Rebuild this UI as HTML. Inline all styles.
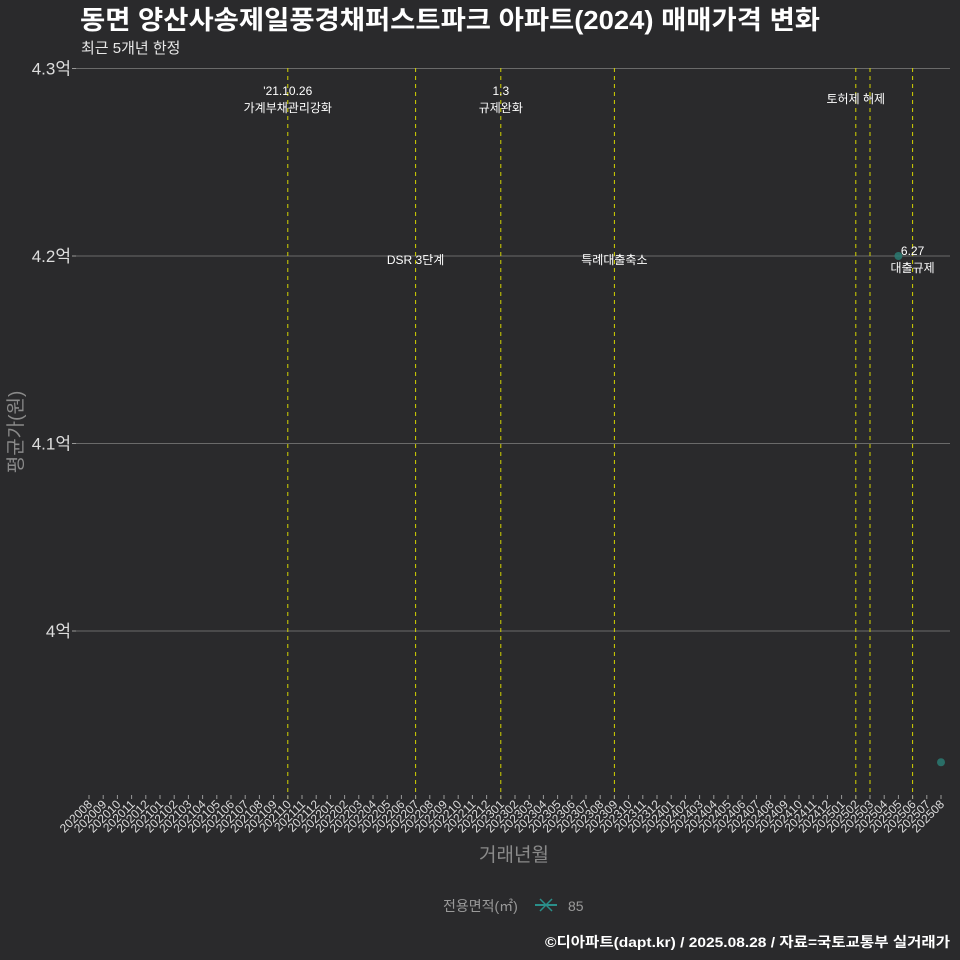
<!DOCTYPE html>
<html><head><meta charset="utf-8">
<style>
html,body{margin:0;padding:0;background:#2a2a2c;}
body{width:960px;height:960px;overflow:hidden;font-family:"Liberation Sans","Noto Sans CJK KR",sans-serif;}
svg{display:block;}
svg text{font-family:"Liberation Sans","Noto Sans CJK KR",sans-serif;}
</style></head>
<body>
<svg id="chart" width="960" height="960" xmlns="http://www.w3.org/2000/svg">
<rect width="960" height="960" fill="#2a2a2c"/>
<text x="80" y="29" font-size="26" font-weight="bold" fill="#ffffff" textLength="740" lengthAdjust="spacingAndGlyphs">동면 양산사송제일풍경채퍼스트파크 아파트(2024) 매매가격 변화</text>
<text x="81" y="53" font-size="15" fill="#e8e8e8">최근 5개년 한정</text>
<g id="grid"></g><g id="vlines"></g><g id="xaxis"></g><g id="yaxis"></g><g id="points"></g>
<text x="514" y="861" font-size="19" fill="#8a8a8a" text-anchor="middle">거래년월</text>
<text transform="translate(22,432) rotate(-90)" font-size="19" fill="#8a8a8a" text-anchor="middle">평균가(원)</text>
<g>
<text x="443" y="911" font-size="14" fill="#9a9a9a">전용면적(㎡)</text>
<line x1="535" y1="905" x2="557" y2="905" stroke="#2a8f8a" stroke-width="2"/>
<line x1="540" y1="899" x2="552" y2="911" stroke="#2a8f8a" stroke-width="1.5"/>
<line x1="540" y1="911" x2="552" y2="899" stroke="#2a8f8a" stroke-width="1.5"/>
<text x="568" y="911" font-size="14" fill="#9a9a9a">85</text>
</g>
<text x="950" y="947" font-size="14" font-weight="bold" fill="#ffffff" text-anchor="end" textLength="405" lengthAdjust="spacingAndGlyphs">©디아파트(dapt.kr) / 2025.08.28 / 자료=국토교통부 실거래가</text>
</svg>
<script>
const categories=[];
for(let y=2020;y<=2025;y++)for(let m=1;m<=12;m++){const k=y*100+m;if(k>=202008&&k<=202508)categories.push(String(k));}
const seriesDates=["202505","202508"];
const seriesValues=[4.2,3.93];
const yTicks=[4.0,4.1,4.2,4.3];
const yTickLabels=["4억","4.1억","4.2억","4.3억"];
const eventDates=["202110","202207","202301","202309","202502","202503","202506"];
const eventLabels=[["'21.10.26","가계부채관리강화"],["DSR 3단계"],["1.3","규제완화"],["특례대출축소"],["토허제 해제"],[],["6.27","대출규제"]];
const eventLabelY=[95,264,95,264,103,0,255];

const NS="http://www.w3.org/2000/svg";
const x0=89,step=14.2;
function xs(c){return x0+categories.indexOf(c)*step;}
function ys(v){return 631-(v-4.0)*1875;}
function mk(parent,tag,attrs,txt){const e=document.createElementNS(NS,tag);for(const k in attrs)e.setAttribute(k,attrs[k]);if(txt!==undefined)e.textContent=txt;document.getElementById(parent).appendChild(e);return e;}

yTicks.forEach((v,i)=>{
  const l=mk("grid","line",{x1:76,x2:950,y1:ys(v),y2:ys(v),stroke:"#6a6a6a","stroke-width":1});
  
  
  mk("yaxis","line",{x1:72,x2:76,y1:ys(v),y2:ys(v),stroke:"#999"});
  const t=mk("yaxis","text",{x:71,y:ys(v)+6,"font-size":17,fill:"#dddddd","text-anchor":"end"},yTickLabels[i]);
  
  
});
categories.forEach(c=>{
  const x=xs(c);
  mk("xaxis","line",{x1:x,x2:x,y1:795,y2:799,stroke:"#999"});
  const t=mk("xaxis","text",{transform:`translate(${x+4},805) rotate(-45)`,"font-size":12,fill:"#dddddd","text-anchor":"end"},c);
  
  
});
eventDates.forEach((d,i)=>{
  const x=xs(d);
  const l=mk("vlines","line",{x1:x,x2:x,y1:68,y2:799,stroke:"#d4d400","stroke-width":1,"stroke-dasharray":"4,4"});
  
  
  eventLabels[i].forEach((s,j)=>{
    const t=mk("vlines","text",{x:x,y:eventLabelY[i]+j*17,"font-size":12,fill:"#ffffff","text-anchor":"middle"},s);
    
    
  });
});
seriesDates.forEach((d,i)=>{
  const p=mk("points","circle",{cx:xs(d),cy:ys(seriesValues[i]),r:4,fill:"#2a7a72","fill-opacity":0.85});
  
  
});
</script>
</body></html>
